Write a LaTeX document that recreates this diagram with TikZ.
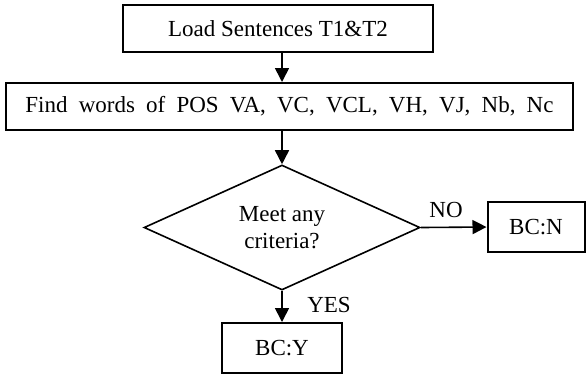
\documentclass[tikz,border=0pt]{standalone}
\usepackage{fontspec}
\setmainfont{Liberation Serif}
\usetikzlibrary{arrows.meta,shapes.geometric}

\begin{document}
\begin{tikzpicture}[x=0.5pt, y=-0.5pt, font=\fontsize{11.5}{13.5}\selectfont,
    stepbox/.style={draw, line width=1pt, inner sep=0pt},
    flow/.style={-{Triangle[length=7pt, width=7pt]}, line width=0.8pt}]
    \useasboundingbox (0, 0) rectangle (587, 377);
    % process boxes.
    \node[stepbox, minimum width=155pt, minimum height=23.5pt] (load) at (278, 28.5)
        {Load Sentences T1\&T2};
    \node[stepbox, minimum width=283.5pt, minimum height=23.5pt] (find) at (289.5, 106.5)
        {\spaceskip=5.6pt Find words of POS VA, VC, VCL, VH, VJ, Nb, Nc};
    % decision.
    \node[draw, diamond, aspect=2.2, line width=0.8pt, inner sep=0pt,
        minimum width=138pt, minimum height=62.5pt, align=center] (criteria) at (282, 227.5)
        {Meet any\\criteria?};
    % results.
    \node[stepbox, minimum width=48.5pt, minimum height=25pt] (bcn) at (536, 227) {BC:N};
    \node[stepbox, minimum width=60pt, minimum height=25pt] (bcy) at (282, 348) {BC:Y};
    % connectors.
    \draw[flow] (load.south -| criteria.north) -- (find.north -| criteria.north);
    \draw[flow] (find.south -| criteria.north) -- (criteria.north);
    \draw[flow] (criteria.east) -- (bcn.west);
    \draw[flow] (criteria.south) -- (bcy.north);
    % branch labels.
    \node (no) at (446, 210) {NO};
    \node (yes) at (329, 305) {YES};
\end{tikzpicture}
\end{document}
